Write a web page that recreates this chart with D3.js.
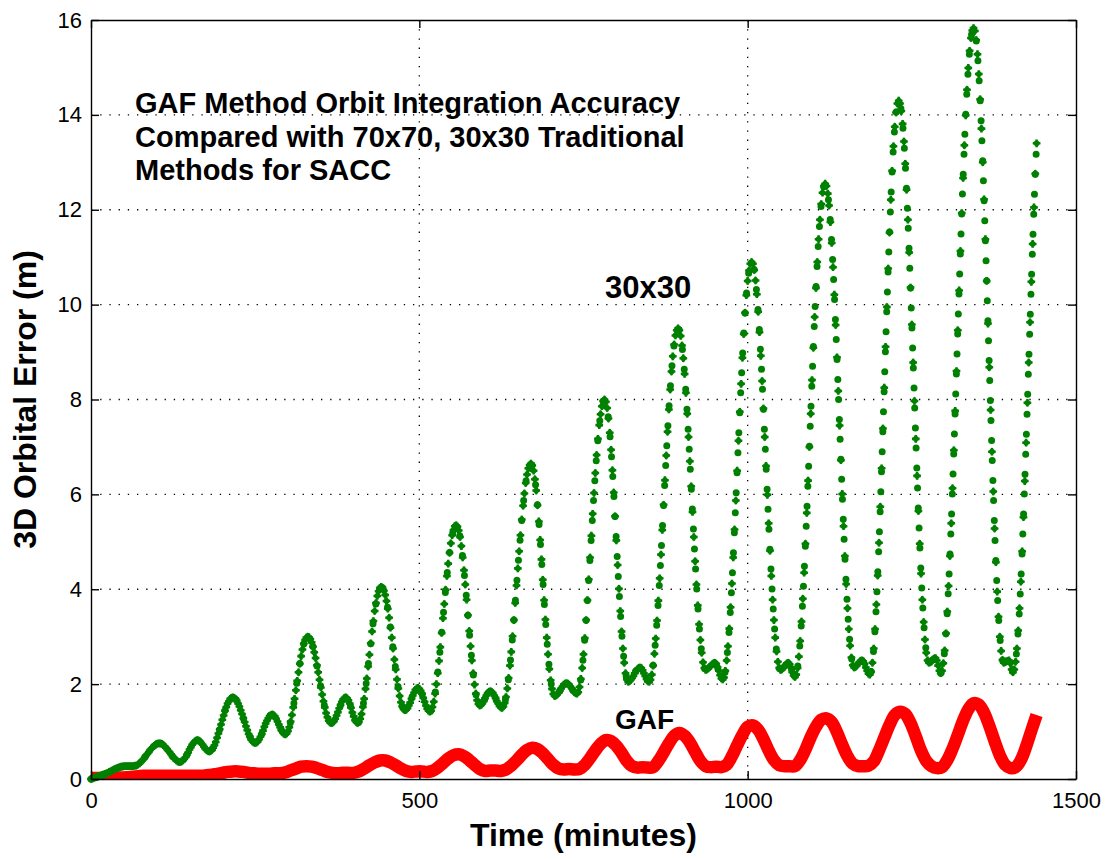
<!DOCTYPE html>
<html><head><meta charset="utf-8">
<script src="https://cdn.jsdelivr.net/npm/d3@7"></script>
<style>body{margin:0;background:#fff}svg{display:block}</style>
</head><body>
<svg id="chart" width="1111" height="859"></svg>
<script>
// ---- data ----
const stepMinutes30 = 2;   // 30x30 samples every 2 minutes, t = 0..1440
const error30x30 = [
0.00,0.01,0.02,0.03,0.04,0.05,0.06,0.07,0.08,0.09,0.10,0.11,0.12,0.13,0.15,0.16,0.18,0.19,0.21,0.22,0.23,0.24,0.25,0.26,0.26,
0.27,0.27,0.27,0.27,0.27,0.27,0.27,0.27,0.28,
0.28,0.29,0.31,0.33,0.36,0.39,0.42,0.46,0.50,0.53,0.57,0.61,0.64,0.67,0.70,0.72,0.74,0.75,0.75,
0.75,0.74,0.72,0.69,0.66,0.63,0.59,0.56,0.52,0.48,0.45,0.42,0.39,0.37,0.36,0.36,
0.37,0.39,0.42,0.46,0.51,0.56,0.62,0.67,0.72,0.76,0.79,0.81,0.82,
0.81,0.79,0.76,0.72,0.68,0.64,0.61,0.59,0.58,
0.59,0.61,0.66,0.71,0.78,0.87,0.96,1.05,1.15,1.25,1.34,1.44,1.52,1.59,1.64,1.69,1.71,1.72,
1.71,1.69,1.65,1.59,1.53,1.45,1.37,1.28,1.20,1.11,1.03,0.95,0.89,0.83,0.79,0.77,0.76,
0.77,0.79,0.84,0.89,0.95,1.02,1.10,1.17,1.23,1.28,1.33,1.35,1.36,
1.35,1.32,1.27,1.21,1.15,1.09,1.03,0.98,0.95,0.94,
0.96,1.01,1.09,1.21,1.35,1.51,1.69,1.87,2.07,2.25,2.43,2.59,2.73,2.85,2.93,2.98,3.00,
2.99,2.95,2.88,2.79,2.67,2.55,2.40,2.25,2.09,1.93,1.78,1.64,1.51,1.39,1.30,1.23,1.19,1.18,
1.19,1.22,1.27,1.34,1.41,1.49,1.56,1.63,1.68,1.71,1.72,
1.70,1.66,1.59,1.50,1.40,1.32,1.24,1.20,1.18,
1.20,1.27,1.37,1.52,1.69,1.90,2.12,2.37,2.62,2.86,3.11,3.33,3.54,3.71,3.86,3.96,4.03,4.05,
4.03,3.97,3.88,3.75,3.59,3.40,3.19,2.98,2.75,2.52,2.31,2.10,1.91,1.75,1.62,1.53,1.47,1.45,
1.46,1.49,1.55,1.61,1.69,1.76,1.82,1.88,1.91,1.92,
1.90,1.86,1.80,1.71,1.63,1.55,1.48,1.44,1.42,
1.44,1.52,1.63,1.80,2.00,2.23,2.49,2.78,3.08,3.39,3.69,3.99,4.28,4.54,4.77,4.97,5.14,5.25,5.33,5.35,
5.32,5.24,5.10,4.91,4.67,4.40,4.10,3.78,3.45,3.12,2.80,2.50,2.23,1.99,1.80,1.66,1.58,1.55,
1.56,1.59,1.64,1.70,1.76,1.81,1.84,1.85,
1.84,1.81,1.76,1.71,1.64,1.59,1.54,1.51,1.50,
1.53,1.60,1.73,1.91,2.13,2.39,2.68,3.01,3.35,3.71,4.08,4.44,4.80,5.14,5.47,5.76,6.02,6.24,6.42,6.55,6.62,6.65,
6.61,6.50,6.32,6.08,5.77,5.43,5.04,4.63,4.20,3.77,3.36,2.98,2.63,2.32,2.08,1.90,1.79,1.75,
1.76,1.78,1.82,1.86,1.91,1.95,1.99,2.01,2.02,
2.01,1.99,1.95,1.91,1.87,1.83,1.81,1.80,
1.83,1.94,2.11,2.34,2.63,2.97,3.35,3.77,4.21,4.67,5.13,5.59,6.03,6.45,6.83,7.17,7.46,7.69,7.86,7.97,8.00,
7.95,7.82,7.60,7.30,6.94,6.51,6.04,5.54,5.03,4.51,4.01,3.54,3.11,2.75,2.45,2.23,2.10,2.05,
2.06,2.09,2.13,2.17,2.23,2.28,2.31,2.34,2.35,
2.34,2.29,2.23,2.17,2.11,2.06,2.05,
2.09,2.20,2.39,2.64,2.96,3.34,3.76,4.23,4.73,5.25,5.78,6.30,6.82,7.32,7.79,8.21,8.59,8.91,9.16,9.35,9.46,9.50,
9.46,9.34,9.14,8.87,8.54,8.14,7.70,7.21,6.70,6.17,5.63,5.10,4.59,4.10,3.66,3.26,2.93,2.66,2.46,2.34,2.30,
2.31,2.33,2.36,2.39,2.42,2.44,2.45,
2.43,2.36,2.28,2.19,2.12,2.10,
2.14,2.28,2.50,2.80,3.17,3.62,4.12,4.67,5.26,5.87,6.50,7.13,7.74,8.33,8.88,9.38,9.83,10.20,10.50,10.72,10.86,10.90,
10.86,10.73,10.51,10.22,9.85,9.42,8.92,8.39,7.81,7.21,6.60,5.99,5.39,4.81,4.28,3.78,3.35,2.98,2.69,2.47,2.34,2.30,
2.31,2.34,2.38,2.41,2.44,2.45,
2.42,2.35,2.25,2.18,2.15,
2.20,2.34,2.58,2.91,3.32,3.80,4.35,4.96,5.61,6.29,7.00,7.70,8.41,9.09,9.74,10.35,10.90,11.38,11.79,12.12,12.36,12.50,12.55,
12.50,12.34,12.09,11.74,11.30,10.79,10.21,9.57,8.89,8.18,7.45,6.72,6.01,5.33,4.70,4.11,3.60,3.16,2.81,2.56,2.40,2.35,
2.36,2.39,2.43,2.46,2.49,2.50,
2.48,2.43,2.35,2.28,2.22,2.20,
2.26,2.45,2.75,3.16,3.68,4.29,4.98,5.74,6.55,7.39,8.25,9.11,9.95,10.76,11.52,12.21,12.82,13.34,13.75,14.05,14.24,14.30,
14.24,14.08,13.81,13.44,12.97,12.42,11.79,11.10,10.36,9.58,8.78,7.97,7.17,6.39,5.65,4.96,4.33,3.78,3.31,2.94,2.66,2.50,2.45,
2.46,2.48,2.52,2.54,2.55,
2.50,2.39,2.28,2.23,
2.28,2.44,2.71,3.07,3.53,4.07,4.70,5.39,6.13,6.93,7.76,8.60,9.46,10.30,11.13,11.93,12.67,13.36,13.99,14.53,14.99,15.35,15.62,15.78,15.83,
15.77,15.58,15.28,14.86,14.33,13.71,13.00,12.22,11.38,10.50,9.60,8.68,7.78,6.90,6.06,5.28,4.57,3.95,3.42,3.00,2.70,2.51,2.45,
2.46,2.48,2.49,2.50,
2.44,2.31,2.25,
2.31,2.47,2.75,3.13,3.60,4.16,4.80,5.52,6.28,7.09,7.93,8.78,9.63,10.48,11.28,12.05,12.76,13.40
];

const stepMinutesGAF = 8;  // GAF samples every 8 minutes, t = 0..1440
const errorGAF = [
0.02,0.02,0.02,0.02,0.02,0.03,0.03,0.04,0.05,0.06,
0.07,0.07,0.07,0.07,0.07,0.07,0.07,0.07,0.07,0.07,
0.07,0.07,0.08,0.09,0.11,0.13,0.15,0.16,0.16,0.15,
0.13,0.12,0.11,0.11,0.11,0.12,0.12,0.14,0.18,0.22,
0.26,0.27,0.26,0.23,0.19,0.15,0.13,0.12,0.13,0.13,
0.13,0.16,0.22,0.29,0.35,0.39,0.39,0.35,0.29,0.22,
0.17,0.15,0.16,0.16,0.15,0.17,0.24,0.33,0.43,0.50,
0.52,0.48,0.40,0.30,0.21,0.17,0.18,0.18,0.17,0.20,
0.28,0.39,0.51,0.61,0.66,0.63,0.54,0.42,0.30,0.22,
0.20,0.21,0.20,0.21,0.30,0.44,0.60,0.74,0.82,0.80,
0.70,0.55,0.38,0.27,0.24,0.25,0.24,0.25,0.38,0.56,
0.75,0.91,0.97,0.91,0.77,0.57,0.38,0.27,0.25,0.26,
0.25,0.30,0.48,0.71,0.93,1.10,1.13,1.04,0.84,0.60,
0.40,0.29,0.27,0.27,0.27,0.40,0.62,0.88,1.10,1.25,
1.28,1.20,0.99,0.72,0.48,0.32,0.27,0.27,0.28,0.37,
0.60,0.87,1.14,1.35,1.42,1.37,1.18,0.90,0.60,0.38,
0.27,0.23,0.25,0.40,0.64,0.93,1.23,1.47,1.60,1.57,
1.40,1.12,0.80,0.50,0.30,0.23,0.25,0.40,0.68,1.02,
1.35
];

const xTicks = [0, 500, 1000, 1500];
const yTicks = [0, 2, 4, 6, 8, 10, 12, 14, 16];
const annotationLines = [
  "GAF Method Orbit Integration Accuracy",
  "Compared with 70x70, 30x30 Traditional",
  "Methods for SACC"
];
const seriesLabels = ["30x30", "GAF"];
const xTitle = "Time (minutes)";
const yTitle = "3D Orbital Error (m)";

// ---- drawing ----
const FONT = "'Liberation Sans', Arial, Helvetica, sans-serif";
const GREEN = "#008000", RED = "#ff0000";
const svg = d3.select("#chart");
const x = d3.scaleLinear().domain([0, 1500]).range([91, 1076]);
const y = d3.scaleLinear().domain([0, 16]).range([779, 20]);

svg.append("defs").append("clipPath").attr("id", "plotclip")
  .append("rect").attr("x", x(0)).attr("y", y(16)).attr("width", x(1500) - x(0)).attr("height", y(0) - y(16));

// grid
const grid = svg.append("g").attr("stroke", "#000").attr("stroke-width", 1.3).attr("stroke-dasharray", "1.3,7.9");
grid.selectAll("line.h").data(yTicks.filter(v => v > 0 && v < 16)).join("line").attr("class", "h")
  .attr("x1", x(0)).attr("x2", x(1500)).attr("y1", d => y(d)).attr("y2", d => y(d));
grid.selectAll("line.v").data(xTicks.filter(v => v > 0 && v < 1500)).join("line").attr("class", "v")
  .attr("y1", y(16)).attr("y2", y(0)).attr("x1", d => x(d)).attr("x2", d => x(d));

const pts30 = error30x30.map((v, i) => ({ t: i * stepMinutes30, v }));
const ptsGAF = errorGAF.map((v, i) => ({ t: i * stepMinutesGAF, v }));

// GAF (dense red markers form a solid band)
svg.append("path").datum(ptsGAF)
  .attr("clip-path", "url(#plotclip)")
  .attr("d", d3.line().x(d => x(d.t)).y(d => y(d.v)).curve(d3.curveCatmullRom))
  .attr("fill", "none").attr("stroke", RED).attr("stroke-width", 12.5)
  .attr("stroke-linejoin", "round").attr("stroke-linecap", "butt");

// 30x30: dotted trace through the samples, plus a marker on every sample
svg.append("path").datum(pts30)
  .attr("d", d3.line().x(d => x(d.t)).y(d => y(d.v)))
  .attr("fill", "none").attr("stroke", GREEN).attr("stroke-width", 7)
  .attr("stroke-linecap", "round").attr("stroke-dasharray", "0,20");
const markerPath = d3.symbol(d3.symbolDiamond2, 44)() + d3.symbol(d3.symbolCross, 32)();
svg.append("g").attr("fill", GREEN)
  .selectAll("path").data(pts30).join("path")
  .attr("d", markerPath)
  .attr("transform", d => `translate(${x(d.t)},${y(d.v)})`);

// axes
function styleAxis(g) {
  g.attr("font-family", FONT).attr("font-size", 22);
  g.select(".domain").attr("stroke", "#000").attr("stroke-width", 1.4);
  g.selectAll(".tick line").attr("stroke", "#000").attr("stroke-width", 1.4);
  g.selectAll(".tick text").attr("fill", "#000");
}
svg.append("g").attr("transform", `translate(0,${y(0)})`)
  .call(d3.axisBottom(x).tickValues(xTicks).tickSizeInner(-8).tickSizeOuter(0).tickPadding(13).tickFormat(d3.format("d")))
  .call(styleAxis);
svg.append("g").attr("transform", `translate(0,${y(16)})`)
  .call(d3.axisTop(x).tickValues(xTicks).tickSizeInner(-8).tickSizeOuter(0).tickFormat(""))
  .call(styleAxis);
svg.append("g").attr("transform", `translate(${x(0)},0)`)
  .call(d3.axisLeft(y).tickValues(yTicks).tickSizeInner(-8).tickSizeOuter(0).tickPadding(9).tickFormat(d3.format("d")))
  .call(styleAxis);
svg.append("g").attr("transform", `translate(${x(1500)},0)`)
  .call(d3.axisRight(y).tickValues(yTicks).tickSizeInner(-8).tickSizeOuter(0).tickFormat(""))
  .call(styleAxis);

// axis titles
svg.append("text").attr("x", (x(0) + x(1500)) / 2).attr("y", 846)
  .attr("text-anchor", "middle").attr("font-family", FONT).attr("font-weight", "bold").attr("font-size", 32)
  .text(xTitle);
svg.append("text").attr("transform", `translate(36,${(y(0) + y(16)) / 2}) rotate(-90)`)
  .attr("text-anchor", "middle").attr("font-family", FONT).attr("font-weight", "bold").attr("font-size", 32)
  .text(yTitle);

// annotation
svg.append("g").attr("font-family", FONT).attr("font-weight", "bold").attr("font-size", 29)
  .selectAll("text").data(annotationLines).join("text")
  .attr("x", 135).attr("y", (d, i) => 113 + i * 33.5).text(d => d);

// series labels
svg.append("text").attr("x", 605).attr("y", 298).attr("font-family", FONT).attr("font-weight", "bold").attr("font-size", 31).text(seriesLabels[0]);
svg.append("text").attr("x", 615).attr("y", 729).attr("font-family", FONT).attr("font-weight", "bold").attr("font-size", 28).text(seriesLabels[1]);
</script>
</body></html>
